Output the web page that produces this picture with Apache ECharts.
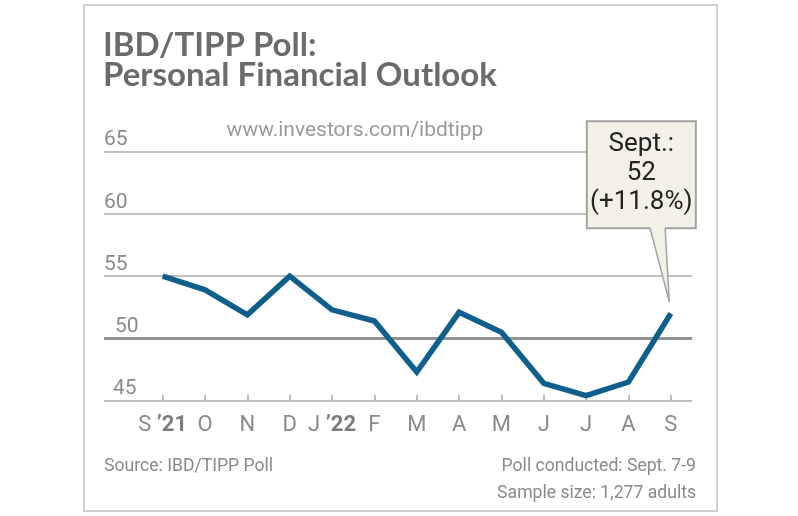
<!DOCTYPE html>
<html>
<head>
<meta charset="utf-8">
<script src="https://cdn.jsdelivr.net/npm/echarts@6/dist/echarts.min.js"></script>
<style>html,body{margin:0;padding:0;background:#fff;}#c{width:798px;height:516px;}</style>
</head>
<body>
<div id="c"></div>
<script>
const categories = ["S \u201921","O","N","D","J \u201922","F","M","A","M","J","J","A","S"];
const outlook = [55.0, 53.9, 51.9, 55.0, 52.3, 51.4, 47.3, 52.1, 50.5, 46.4, 45.4, 46.5, 52.0];
const yTicks = [45, 50, 55, 60, 65];
const titleLines = ["IBD/TIPP Poll:", "Personal Financial Outlook"];
const calloutText = ["Sept.:", "52", "(+11.8%)"];

const chart = echarts.init(document.getElementById('c'), null, {renderer: 'canvas'});
const GRID_TOP = 151.7, GRID_BOTTOM = 516 - 400.7, GRID_RIGHT = 798 - 692;
const gray = '#8a8a8a';

chart.setOption({
  animation: false,
  backgroundColor: '#ffffff',
  grid: [
    {left: 141.5, right: GRID_RIGHT, top: GRID_TOP, bottom: GRID_BOTTOM},
    {left: 104, right: GRID_RIGHT, top: GRID_TOP, bottom: GRID_BOTTOM}
  ],
  xAxis: [
    {
      type: 'category', gridIndex: 0, data: categories, boundaryGap: true,
      axisLine: {show: false},
      axisTick: {show: true, inside: true, length: 6, alignWithLabel: true, interval: 0, lineStyle: {color: '#a8a8a8', width: 1.5}},
      axisLabel: {
        interval: 0, margin: 14, fontFamily: 'Roboto', fontSize: 22, color: gray,
        formatter: function (v) {
          const i = v.indexOf(' ');
          if (i < 0) return v;
          return v.slice(0, i + 1) + '{b|' + v.slice(i + 1) + '}';
        },
        rich: {b: {fontFamily: 'Roboto', fontSize: 22, fontWeight: 'bold', color: '#7c7c7c'}}
      },
      splitLine: {show: false}
    },
    {type: 'value', gridIndex: 1, min: 0, max: 1, show: false}
  ],
  yAxis: [
    {type: 'value', gridIndex: 0, min: 45, max: 65, interval: 5, show: false},
    {
      type: 'value', gridIndex: 1, min: 45, max: 65, interval: 5,
      axisLine: {show: false}, axisTick: {show: false},
      splitLine: {show: true, lineStyle: {color: '#a8a8a8', width: 1.5}},
      axisLabel: {
        inside: true, margin: 0, verticalAlign: 'bottom',
        fontFamily: 'Roboto', fontSize: 21, color: gray, padding: [0, 0, 1, 0],
        formatter: function (v) {
          if (v === 50) return '{m|' + v + '}';
          if (v === 45) return '{n|' + v + '}';
          return '' + v;
        },
        rich: {
          m: {fontFamily: 'Roboto', fontSize: 21, color: gray, padding: [0, 0, 0, 11]},
          n: {fontFamily: 'Roboto', fontSize: 21, color: gray, padding: [0, 0, 0, 9]}
        }
      }
    }
  ],
  series: [
    {
      type: 'line', xAxisIndex: 1, yAxisIndex: 1, data: [], silent: true,
      markLine: {
        silent: true, symbol: 'none', label: {show: false},
        lineStyle: {color: '#929292', width: 3, type: 'solid'},
        data: [{yAxis: 50}]
      }
    },
    {
      type: 'line', xAxisIndex: 0, yAxisIndex: 0, data: outlook,
      symbol: 'none', lineStyle: {color: '#0e5f8c', width: 5.5, join: 'miter'},
      z: 5
    }
  ]
});

const pt = chart.convertToPixel({xAxisIndex: 0, yAxisIndex: 0}, [outlook.length - 1, outlook[outlook.length - 1]]);
const bx = pt[0] - 84, by = pt[1] - 192.3, bw = 109, bh = 107;
const baseY = by + bh;
const cream = '#f3f0e5';
const boxStroke = '#a3a3a3';

chart.setOption({
  graphic: [
    {type: 'rect', z: 0, silent: true, shape: {x: 84, y: 5, width: 633, height: 506},
     style: {fill: 'none', stroke: '#cfcfcf', lineWidth: 2}},
    {type: 'text', z: 10, x: 103, y: 45, style: {text: titleLines[0], font: 'bold 33px Lato', fill: '#6b6b6b', verticalAlign: 'middle', align: 'left'}},
    {type: 'text', z: 10, x: 103, y: 75, style: {text: titleLines[1], font: 'bold 33px Lato', fill: '#6b6b6b', verticalAlign: 'middle', align: 'left'}},
    {type: 'text', z: 10, x: 355, y: 131, style: {text: 'www.investors.com/ibdtipp', font: '21px Roboto', fill: '#9a9a9a', verticalAlign: 'middle', align: 'center'}},
    {type: 'text', z: 10, x: 104, y: 467, style: {text: 'Source: IBD/TIPP Poll', font: '17.6px Roboto', fill: '#8a8a8a', verticalAlign: 'middle', align: 'left'}},
    {type: 'text', z: 10, x: 696, y: 467, style: {text: 'Poll conducted: Sept. 7-9', font: '17.6px Roboto', fill: '#8a8a8a', verticalAlign: 'middle', align: 'right'}},
    {type: 'text', z: 10, x: 696, y: 494, style: {text: 'Sample size: 1,277 adults', font: '17.6px Roboto', fill: '#8a8a8a', verticalAlign: 'middle', align: 'right'}},
    {type: 'rect', z: 20, silent: true, shape: {x: bx, y: by, width: bw, height: bh},
     style: {fill: cream, stroke: boxStroke, lineWidth: 2}},
    {type: 'polygon', z: 21, silent: true,
     shape: {points: [[pt[0] - 20.7, baseY - 1.5], [pt[0] - 1.5, pt[1] - 11.5], [pt[0] - 5.7, baseY - 1.5]]},
     style: {fill: cream}},
    {type: 'polyline', z: 22, silent: true,
     shape: {points: [[pt[0] - 20.7, baseY], [pt[0] - 1.5, pt[1] - 11.5], [pt[0] - 5.7, baseY]]},
     style: {fill: 'none', stroke: boxStroke, lineWidth: 1.5}},
    {type: 'text', z: 23, silent: true, x: bx + bw / 2, y: by + bh / 2 - 1.5,
     style: {text: calloutText.join('\n'), font: '26px Roboto', lineHeight: 29, fill: '#222222', verticalAlign: 'middle', align: 'center'}}
  ]
});
</script>
</body>
</html>
